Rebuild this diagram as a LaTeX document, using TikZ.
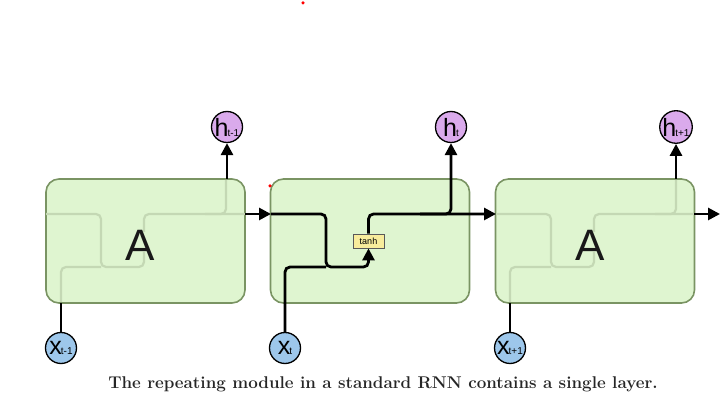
\documentclass[tikz,border=0pt]{standalone}
\usepackage{fontspec}
\newfontfamily\lsans{Liberation Sans}
\usetikzlibrary{arrows.meta}
\definecolor{boxfill}{RGB}{223,245,208}
\definecolor{boxline}{RGB}{122,148,99}
\definecolor{faded}{RGB}{196,216,180}
\definecolor{hfill}{RGB}{218,170,236}
\definecolor{xfill}{RGB}{157,199,235}
\definecolor{tanhfill}{RGB}{248,236,156}
\tikzset{
  cell/.style={draw=boxline, fill=boxfill, line width=1.6pt, rounded corners=13pt,
    minimum width=199pt, minimum height=124pt, inner sep=0pt},
  hcirc/.style={circle, draw=black, fill=hfill, line width=1.3pt, minimum size=31pt, inner sep=0pt},
  xcirc/.style={circle, draw=black, fill=xfill, line width=1.3pt, minimum size=31pt, inner sep=0pt},
  tanhbox/.style={draw=black!65, fill=tanhfill, line width=0.9pt, minimum width=31pt,
    minimum height=14pt, inner sep=0pt, font=\lsans\fontsize{9}{9}\selectfont},
  wire/.style={line width=2.8pt, black, rounded corners=5pt},
  arr/.style={wire, -{Triangle[length=12pt,width=12pt]}},
  fadedwire/.style={line width=2.2pt, faded, rounded corners=5pt},
  bigA/.style={font=\lsans\fontsize{44}{44}\selectfont, text=black!90},
  reddot/.style={circle, fill=red, inner sep=0pt, minimum size=3.5pt}
}
\newcommand{\hlab}[1]{{\lsans\fontsize{25}{25}\selectfont h\kern-1pt{\fontsize{10}{10}\selectfont #1}}}
\newcommand{\xlab}[1]{{\lsans\fontsize{25}{25}\selectfont x\kern-1pt{\fontsize{10}{10}\selectfont #1}}}
\begin{document}
\begin{tikzpicture}[x=1pt,y=-1pt]
\useasboundingbox (0,0) rectangle (724,403);
% boxes
\node[cell] (b1) at (145.5,241) {};
\node[cell] (b2) at (370,241) {};
\node[cell] (b3) at (595,241) {};
% faded inner wiring, box 1
\draw[fadedwire] (46,214) -- (101,214) -- (101,267) -- (144,267) -- (144,252);
\draw[fadedwire] (144,232) -- (144,214) -- (245,214);
\draw[fadedwire] (205,214) -- (226,214) -- (226,180);
\draw[fadedwire] (61,302) -- (61,267) -- (101,267);
% faded inner wiring, box 3
\draw[fadedwire] (496,214) -- (551,214) -- (551,267) -- (594,267) -- (594,252);
\draw[fadedwire] (594,232) -- (594,214) -- (694,214);
\draw[fadedwire] (655,214) -- (676,214) -- (676,180);
\draw[fadedwire] (510,302) -- (510,267) -- (551,267);
\node[bigA] (A1) at (140,245) {A};
\node[bigA] (A3) at (590,245) {A};
% circles
\node[hcirc] (h1) at (227,127) {\hlab{t-1}};
\node[hcirc] (h2) at (451,127) {\hlab{t}};
\node[hcirc] (h3) at (676,127) {\hlab{t+1}};
\node[xcirc] (x1) at (61,348) {\xlab{t-1}};
\node[xcirc] (x2) at (285,348) {\xlab{t}};
\node[xcirc] (x3) at (510,348) {\xlab{t+1}};
% tanh
\node[tanhbox] (th) at (368.5,241) {tanh};
% coordinates
\coordinate (b1out) at (245,214);
\coordinate (b2in) at (271,214);
\coordinate (b2out) at (469,214);
\coordinate (b3in) at (496,214);
\coordinate (b3out) at (694,214);
\coordinate (end) at (720,214);
\coordinate (h1base) at (227,179);
\coordinate (h3base) at (676,179);
\coordinate (x1top) at (61,303);
\coordinate (x3top) at (510,303);
\coordinate (c1) at (326,214);
\coordinate (c2) at (326,267);
\coordinate (c3) at (368.5,267);
\coordinate (c4) at (285,267);
\coordinate (c5) at (368.5,214);
\coordinate (c6) at (451,214);
\coordinate (c7) at (420,214);
% black wiring
\draw[arr] (b1out) -- (b2in);
\draw[arr] (h1base) -- (h1);
\draw[wire] (x1) -- (x1top);
\draw[arr] (b2in) -- (c1) -- (c2) -- (c3) -- (th);
\draw[wire] (x2) -- (c4) -- (c2);
\draw[arr] (th) -- (c5) -- (b3in);
\draw[arr] (c7) -- (c6) -- (h2);
\draw[arr] (b3out) -- (end);
\draw[arr] (h3base) -- (h3);
\draw[wire] (x3) -- (x3top);
% red dots
\node[reddot] (r1) at (303,3) {};
\node[reddot] (r2) at (270,186) {};
% caption
\node[font=\bfseries\fontsize{17}{20}\selectfont, text=black!85] (cap) at (383,384)
  {The repeating module in a standard RNN contains a single layer.};
\end{tikzpicture}
\end{document}
